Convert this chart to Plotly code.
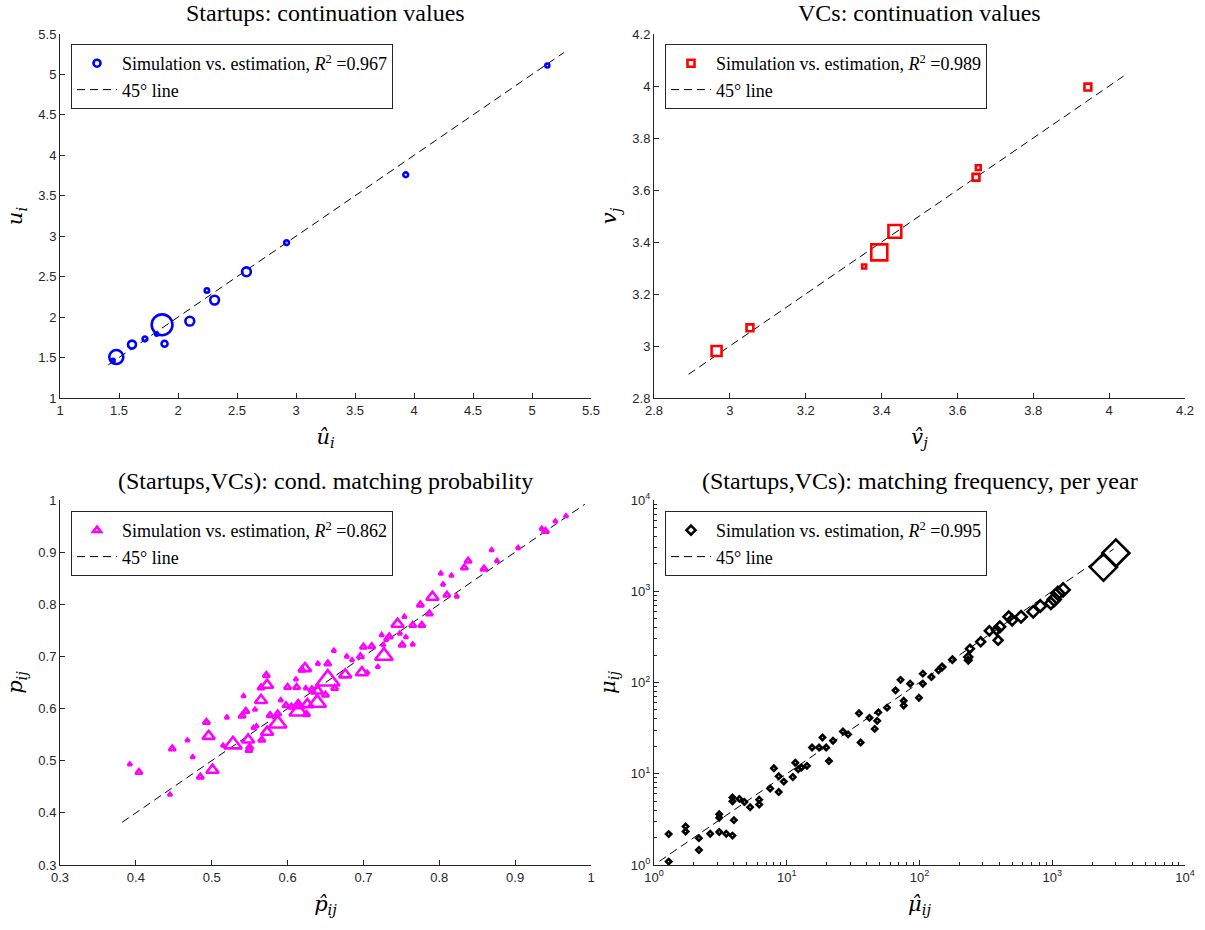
import plotly.graph_objects as go

# ---------------- data ----------------
# Startups: estimated (hat) vs simulated continuation values, with market weight
startup_u_hat = [5.13, 3.93, 2.92, 2.58, 2.245, 2.31, 2.10, 1.865, 1.886, 1.82, 1.72, 1.61, 1.477, 1.45]
startup_u_sim = [5.11, 3.76, 2.92, 2.56, 2.33, 2.21, 1.95, 1.905, 1.67, 1.79, 1.73, 1.66, 1.506, 1.465]
startup_weight = [1.0, 1.2, 1.2, 2.2, 1.1, 2.2, 2.2, 5.2, 1.5, 0.8, 1.2, 2.0, 3.5, 0.8]
startup_r2 = 0.967
startup_line = [1.41, 5.27]

# VCs: estimated vs simulated continuation values
vc_v_hat = [3.944, 3.655, 3.649, 3.435, 3.394, 3.354, 3.053, 2.965]
vc_v_sim = [3.996, 3.686, 3.649, 3.441, 3.360, 3.306, 3.070, 2.981]
vc_weight = [1.7, 1.2, 1.7, 3.2, 4.0, 1.0, 1.7, 2.5]
vc_r2 = 0.989
vc_line = [2.891, 4.038]

# (Startups, VCs): conditional matching probability
pair_p_hat = [0.967, 0.953, 0.935, 0.940, 0.904, 0.869, 0.876, 0.859, 0.838, 0.833,
              0.816, 0.802, 0.805, 0.823, 0.810, 0.791, 0.775, 0.787, 0.754, 0.745,
              0.765, 0.777, 0.748, 0.756, 0.734, 0.724, 0.730, 0.751, 0.765, 0.726,
              0.700, 0.711, 0.727, 0.719, 0.696, 0.678, 0.685, 0.661, 0.698, 0.705,
              0.676, 0.653, 0.653, 0.640, 0.623, 0.619, 0.611, 0.600, 0.612, 0.624,
              0.632, 0.639, 0.662, 0.650, 0.639, 0.626, 0.614, 0.605, 0.598, 0.591,
              0.614, 0.625, 0.587, 0.587, 0.577, 0.573, 0.566, 0.559, 0.555, 0.572,
              0.573, 0.565, 0.565, 0.557, 0.545, 0.540, 0.542, 0.548, 0.549, 0.550,
              0.528, 0.515, 0.520, 0.496, 0.493, 0.501, 0.485, 0.468, 0.475, 0.448,
              0.445, 0.404, 0.392]
pair_p_sim = [0.969, 0.959, 0.945, 0.940, 0.908, 0.904, 0.883, 0.868, 0.883, 0.870,
              0.855, 0.859, 0.838, 0.815, 0.818, 0.814, 0.799, 0.782, 0.776, 0.762,
              0.760, 0.760, 0.744, 0.737, 0.738, 0.741, 0.732, 0.722, 0.723, 0.722,
              0.718, 0.719, 0.701, 0.680, 0.700, 0.700, 0.693, 0.711, 0.669, 0.669,
              0.665, 0.654, 0.686, 0.686, 0.677, 0.674, 0.656, 0.641, 0.641, 0.639,
              0.636, 0.634, 0.639, 0.626, 0.611, 0.608, 0.606, 0.603, 0.606, 0.616,
              0.594, 0.589, 0.571, 0.590, 0.587, 0.555, 0.540, 0.566, 0.563, 0.664,
              0.645, 0.640, 0.616, 0.598, 0.595, 0.586, 0.624, 0.540, 0.520, 0.526,
              0.531, 0.529, 0.583, 0.547, 0.574, 0.482, 0.469, 0.539, 0.507, 0.523,
              0.435, 0.478, 0.493]
pair_p_weight = [1, 1, 1, 1.7, 1, 1, 1, 1.7, 1.7, 1.7,
                 1, 1, 1, 1, 1.7, 3, 1.7, 1.7, 1, 3,
                 1.7, 1.7, 1, 1, 1.7, 1, 1, 1.7, 1, 1,
                 1.7, 1.7, 4.3, 1, 1.7, 1, 1, 1, 3, 1,
                 3, 5.7, 1.7, 1, 3, 1.7, 1, 1.7, 1.7, 1,
                 1.7, 3, 1.7, 1.7, 4.3, 3, 3, 1.7, 1.7, 1,
                 4.3, 1.7, 4.3, 1.7, 1.7, 3, 1.7, 1, 1, 1.7,
                 3, 1.7, 3, 1, 1.7, 1.7, 1, 3, 1.7, 1.7,
                 4.3, 1, 1, 3, 1.7, 3, 1.7, 1, 1, 1.7,
                 1, 1.7, 1]
pair_p_r2 = 0.862
pair_p_line = [0.382, 0.992]

# (Startups, VCs): matching frequency per year
pair_mu_hat = [3013, 2432, 1208, 1102, 1037, 976, 813, 719, 582, 499,
               470, 403, 391, 380, 336, 289, 240, 233, 233, 177,
               148, 139, 123, 106, 106, 85, 99, 72, 76, 76,
               66, 57, 49, 48, 46, 42, 35, 36, 29, 26.5,
               22.3, 18.6, 19.8, 20.8, 17.5, 15.5, 14.2, 12.9, 12.2, 11.6,
               11.1, 9.5, 8.7, 8.0, 8.7, 7.5, 6.2, 6.2, 5.3, 4.8,
               4.4, 3.9, 3.9, 4.0, 3.9, 3.5, 3.1, 3.1, 3.1, 2.65,
               2.18, 2.18, 1.73, 1.73, 1.29, 1.29]
pair_mu_sim = [2624, 1841, 1035, 951, 816, 738, 689, 597, 526, 483,
               526, 407, 290, 375, 368, 279, 235, 190, 175, 178,
               148, 136, 115, 125, 97, 97, 68, 107, 63, 56,
               82, 53, 47, 38, 31, 41, 46, 22, 27, 29,
               23, 25, 19.4, 13.8, 19.4, 19.4, 12.2, 11.7, 11.2, 13.2,
               9.2, 8.2, 9.4, 11.5, 6.3, 6.9, 5.2, 4.6, 4.3, 4.9,
               5.3, 5.5, 5.0, 3.1, 2.1, 2.2, 3.6, 3.3, 2.3, 2.2,
               1.97, 1.46, 2.65, 2.33, 2.18, 1.09]
pair_mu_weight = [5.2, 5.2, 2.5, 2.5, 2.5, 2.2, 2.2, 2.2, 2.2, 2.0,
                  2.0, 2.0, 1.7, 1.7, 1.7, 1.7, 1.5, 1.5, 1.2, 1.2,
                  1.2, 1, 1, 1, 1, 1, 1, 1, 1, 1,
                  1, 1, 1, 1, 1, 1, 1, 1, 1, 1,
                  1, 1, 1, 1, 1, 1, 1, 1, 1, 1,
                  1, 1, 1, 1, 1, 1, 1, 1, 1, 1,
                  1, 1, 1, 1, 1, 1, 1, 1, 1, 1,
                  1, 1, 1, 1, 1, 1]
pair_mu_r2 = 0.995
pair_mu_line = [1.1, 2900]

log_ticks = [1, 10, 100, 1000, 10000]
log_tick_text = ["10<sup>0</sup>", "10<sup>1</sup>", "10<sup>2</sup>", "10<sup>3</sup>", "10<sup>4</sup>"]
log_minor = [m * d for d in (1, 10, 100, 1000) for m in range(2, 10)]

panel_titles = ["Startups: continuation values", "VCs: continuation values",
                "(Startups,VCs): cond. matching probability",
                "(Startups,VCs): matching frequency, per year"]

# ---------------- layout helpers ----------------
W, H = 1205, 930
SERIF = "Liberation Serif"
MATH = "DejaVu Serif"
SANS = "Liberation Sans"
AXC = "#262626"
MLW = 2.6

# plot-area boxes in pixels
cols = [(60, 591), (654, 1185)]
rows = [(34, 398), (500, 865)]


def fx(px):
    return px / W


def fy(py):
    return 1 - py / H


def xdom(c):
    return [fx(cols[c][0]), fx(cols[c][1])]


def ydom(r):
    return [fy(rows[r][1]), fy(rows[r][0])]


def axis_style(**kw):
    d = dict(showline=True, linecolor=AXC, linewidth=1, mirror=False,
             ticks="inside", ticklen=5, tickcolor=AXC, tickwidth=1,
             tickfont=dict(family=SANS, size=13, color=AXC),
             showgrid=False, zeroline=False, automargin=False,
             title_font=dict(family=MATH, size=21, color="black"))
    d.update(kw)
    return d


fig = go.Figure()

panels = [
    dict(x=startup_u_hat, y=startup_u_sim, w=startup_weight, line=startup_line,
         color="#0000ff", symbol="circle-open", base=4.0, r2=startup_r2, ax=("x", "y"), legend="legend"),
    dict(x=vc_v_hat, y=vc_v_sim, w=vc_weight, line=vc_line,
         color="#ff0000", symbol="square-open", base=4.0, r2=vc_r2, ax=("x2", "y2"), legend="legend2"),
    dict(x=pair_p_hat, y=pair_p_sim, w=pair_p_weight, line=pair_p_line,
         color="#ff00ff", symbol="triangle-up-open", base=3.6, r2=pair_p_r2, ax=("x3", "y3"), legend="legend3"),
    dict(x=pair_mu_hat, y=pair_mu_sim, w=pair_mu_weight, line=pair_mu_line,
         color="#000000", symbol="diamond-open", base=4.0, r2=pair_mu_r2, ax=("x4", "y4"), legend="legend4"),
]

for p in panels:
    xa, ya = p["ax"]
    # 45-degree reference line
    fig.add_trace(go.Scatter(x=p["line"], y=p["line"], mode="lines", xaxis=xa, yaxis=ya,
                             line=dict(color="black", width=1, dash="8px,5px"),
                             showlegend=False, hoverinfo="skip"))
    # simulated vs estimated points, marker size scaled by weight
    fig.add_trace(go.Scatter(x=p["x"], y=p["y"], mode="markers", xaxis=xa, yaxis=ya,
                             marker=dict(symbol=p["symbol"], color=p["color"], opacity=1,
                                         size=[p["base"] * w for w in p["w"]],
                                         line=dict(width=MLW, color=p["color"])),
                             showlegend=False))
    # legend entries
    fig.add_trace(go.Scatter(x=[None], y=[None], mode="markers", xaxis=xa, yaxis=ya,
                             marker=dict(symbol=p["symbol"], color=p["color"], size=7, opacity=1,
                                         line=dict(width=MLW, color=p["color"])),
                             name="Simulation vs. estimation, <i>R</i><sup>2</sup> =%.3f" % p["r2"],
                             legend=p["legend"]))
    fig.add_trace(go.Scatter(x=[None], y=[None], mode="lines", xaxis=xa, yaxis=ya,
                             line=dict(color="black", width=1, dash="8px,5px"),
                             name="45° line", legend=p["legend"]))

legend_common = dict(bgcolor="white", bordercolor=AXC, borderwidth=1,
                     font=dict(family=SERIF, size=18, color="black"),
                     xanchor="left", yanchor="top", tracegroupgap=0,
                     itemwidth=40)

fig.update_layout(
    width=W, height=H, margin=dict(l=0, r=0, t=0, b=0, autoexpand=False),
    paper_bgcolor="white", plot_bgcolor="white",
    xaxis=axis_style(domain=xdom(0), anchor="y", range=[1, 5.5], dtick=0.5, tick0=1,
                     title=dict(text="<i>û<sub>i</sub></i>", standoff=12)),
    yaxis=axis_style(domain=ydom(0), anchor="x", range=[1, 5.5], dtick=0.5, tick0=1,
                     title=dict(text="<i>u<sub>i</sub></i>", standoff=9)),
    xaxis2=axis_style(domain=xdom(1), anchor="y2", range=[2.8, 4.2], dtick=0.2, tick0=2.8,
                      title=dict(text="<i>v\u0302<sub>j</sub></i>", standoff=12)),
    yaxis2=axis_style(domain=ydom(0), anchor="x2", range=[2.8, 4.2], dtick=0.2, tick0=2.8,
                      title=dict(text="<i>v<sub>j</sub></i>", standoff=9)),
    xaxis3=axis_style(domain=xdom(0), anchor="y3", range=[0.3, 1.0], dtick=0.1, tick0=0.3,
                      title=dict(text="<i>p\u0302<sub>ij</sub></i>", standoff=12)),
    yaxis3=axis_style(domain=ydom(1), anchor="x3", range=[0.3, 1.0], dtick=0.1, tick0=0.3,
                      title=dict(text="<i>p<sub>ij</sub></i>", standoff=9)),
    xaxis4=axis_style(domain=xdom(1), anchor="y4", type="log", range=[0, 4],
                      tickmode="array", tickvals=log_ticks, ticktext=log_tick_text,
                      minor=dict(ticks="inside", ticklen=3, tickcolor=AXC, tickmode="array",
                                 tickvals=log_minor, showgrid=False),
                      title=dict(text="<i>μ\u0302</i><sub><i>ij</i></sub>", standoff=12)),
    yaxis4=axis_style(domain=ydom(1), anchor="x4", type="log", range=[0, 4],
                      tickmode="array", tickvals=log_ticks, ticktext=log_tick_text,
                      minor=dict(ticks="inside", ticklen=3, tickcolor=AXC, tickmode="array",
                                 tickvals=log_minor, showgrid=False),
                      title=dict(text="<i>μ<sub>ij</sub></i>", standoff=9)),
    legend=dict(legend_common, x=fx(71), y=fy(44)),
    legend2=dict(legend_common, x=fx(665), y=fy(44)),
    legend3=dict(legend_common, x=fx(71), y=fy(511)),
    legend4=dict(legend_common, x=fx(665), y=fy(511)),
)

# panel titles
title_pos = [((cols[0][0] + cols[0][1]) / 2, 13), ((cols[1][0] + cols[1][1]) / 2, 13),
             ((cols[0][0] + cols[0][1]) / 2, 481), ((cols[1][0] + cols[1][1]) / 2, 481)]
for text, (cx, cy) in zip(panel_titles, title_pos):
    fig.add_annotation(text=text, x=fx(cx), y=fy(cy), xref="paper", yref="paper",
                       xanchor="center", yanchor="middle", showarrow=False,
                       font=dict(family=SERIF, size=24, color="black"))

fig.write_html("out.html")
